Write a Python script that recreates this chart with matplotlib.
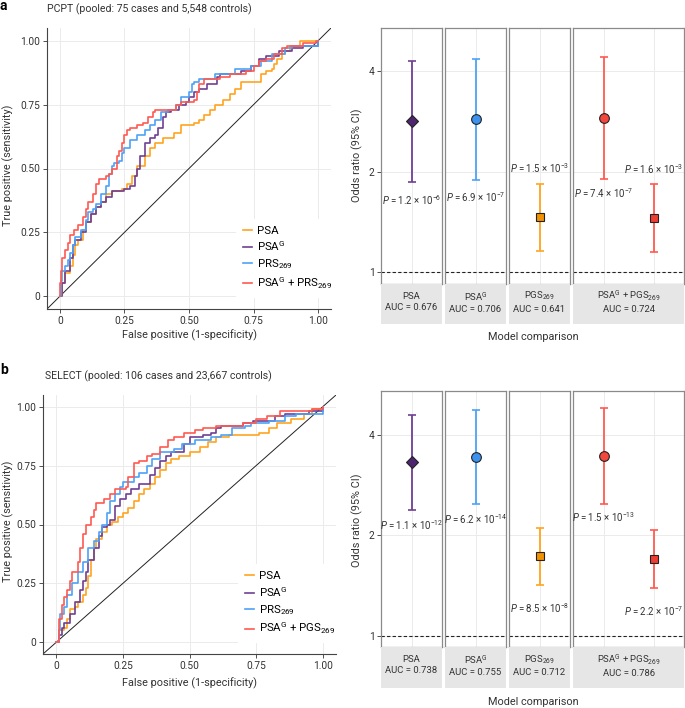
import matplotlib.pyplot as plt
import numpy as np

plt.rcParams['font.family'] = ['Roboto', 'DejaVu Sans']
plt.rcParams['mathtext.fontset'] = 'custom'
plt.rcParams['mathtext.rm'] = 'Roboto'
plt.rcParams['mathtext.it'] = 'Roboto:italic'
plt.rcParams['mathtext.bf'] = 'Roboto:bold'

# ---------------- data ----------------
# PCPT ROC curves (false positive, true positive)
pcpt_psa_fpr = [0, 0.01, 0.02, 0.04, 0.05, 0.06, 0.07, 0.09, 0.10, 0.12, 0.14, 0.16, 0.18, 0.20, 0.24, 0.26,
                0.28, 0.30, 0.33, 0.35, 0.37, 0.40, 0.44, 0.47, 0.52, 0.54, 0.56, 0.58, 0.60, 0.63, 0.66,
                0.68, 0.70, 0.77, 0.78, 0.80, 0.82, 0.83, 0.84, 0.86, 0.87, 0.89, 0.93, 1.0]
pcpt_psa_tpr = [0, 0.05, 0.09, 0.12, 0.16, 0.20, 0.22, 0.26, 0.29, 0.32, 0.35, 0.37, 0.40, 0.41, 0.42, 0.44,
                0.47, 0.51, 0.55, 0.58, 0.60, 0.62, 0.64, 0.67, 0.68, 0.69, 0.71, 0.73, 0.75, 0.77, 0.79,
                0.81, 0.84, 0.84, 0.87, 0.88, 0.89, 0.91, 0.93, 0.95, 0.96, 0.98, 1.0, 1.0]
pcpt_psag_fpr = [0, 0.01, 0.02, 0.04, 0.05, 0.06, 0.08, 0.10, 0.12, 0.14, 0.16, 0.18, 0.20, 0.25, 0.27,
                 0.29, 0.30, 0.31, 0.33, 0.35, 0.37, 0.38, 0.40, 0.41, 0.43, 0.46, 0.49, 0.50, 0.52, 0.54,
                 0.57, 0.61, 0.62, 0.70, 0.74, 0.77, 0.80, 0.85, 0.90, 0.94, 1.0]
pcpt_psag_tpr = [0, 0.05, 0.10, 0.15, 0.20, 0.22, 0.25, 0.29, 0.32, 0.35, 0.37, 0.39, 0.41, 0.42, 0.43,
                 0.47, 0.50, 0.55, 0.60, 0.62, 0.63, 0.66, 0.70, 0.72, 0.73, 0.75, 0.76, 0.78, 0.80, 0.81,
                 0.83, 0.86, 0.87, 0.88, 0.90, 0.93, 0.94, 0.96, 0.97, 0.98, 1.0]
pcpt_prs_fpr = [0, 0.005, 0.01, 0.02, 0.03, 0.04, 0.05, 0.06, 0.08, 0.10, 0.11, 0.13, 0.14, 0.16, 0.18,
                0.19, 0.20, 0.21, 0.23, 0.24, 0.25, 0.27, 0.30, 0.33, 0.35, 0.37, 0.39, 0.42, 0.45, 0.47,
                0.50, 0.51, 0.52, 0.54, 0.60, 0.68, 0.74, 0.78, 0.82, 0.87, 0.90, 1.0]
pcpt_prs_tpr = [0, 0.06, 0.10, 0.12, 0.14, 0.17, 0.20, 0.23, 0.26, 0.30, 0.33, 0.34, 0.36, 0.40, 0.43,
                0.48, 0.51, 0.52, 0.53, 0.56, 0.58, 0.61, 0.63, 0.65, 0.67, 0.69, 0.72, 0.73, 0.75, 0.78,
                0.80, 0.83, 0.84, 0.85, 0.87, 0.89, 0.90, 0.92, 0.95, 0.97, 0.98, 1.0]
pcpt_comb_fpr = [0, 0.002, 0.005, 0.01, 0.02, 0.03, 0.04, 0.055, 0.07, 0.09, 0.10, 0.11, 0.13, 0.14, 0.15,
                 0.18, 0.19, 0.20, 0.22, 0.23, 0.24, 0.25, 0.26, 0.27, 0.30, 0.32, 0.34, 0.36, 0.37, 0.43,
                 0.45, 0.47, 0.52, 0.53, 0.54, 0.56, 0.62, 0.66, 0.72, 0.75, 0.77, 0.80, 0.83, 0.86, 0.88,
                 0.94, 0.99, 1.0]
pcpt_comb_tpr = [0, 0.05, 0.10, 0.15, 0.18, 0.21, 0.24, 0.26, 0.28, 0.31, 0.34, 0.37, 0.40, 0.44, 0.46,
                 0.47, 0.48, 0.50, 0.55, 0.57, 0.60, 0.63, 0.65, 0.66, 0.67, 0.68, 0.70, 0.72, 0.73, 0.73,
                 0.75, 0.76, 0.77, 0.80, 0.83, 0.85, 0.86, 0.87, 0.88, 0.90, 0.92, 0.93, 0.95, 0.97, 0.98,
                 0.99, 1.0, 1.0]

# SELECT ROC curves
sel_psa_fpr = [0, 0.01, 0.03, 0.04, 0.05, 0.07, 0.08, 0.10, 0.11, 0.12, 0.13, 0.14, 0.15, 0.17, 0.19,
               0.21, 0.23, 0.25, 0.27, 0.29, 0.31, 0.33, 0.35, 0.37, 0.39, 0.41, 0.43, 0.46, 0.50, 0.54,
               0.57, 0.60, 0.65, 0.76, 0.80, 0.83, 0.88, 0.93, 0.96, 1.0]
sel_psa_tpr = [0, 0.05, 0.06, 0.10, 0.14, 0.15, 0.17, 0.20, 0.23, 0.28, 0.35, 0.40, 0.44, 0.47, 0.50,
               0.51, 0.53, 0.55, 0.57, 0.60, 0.63, 0.65, 0.67, 0.70, 0.73, 0.76, 0.78, 0.79, 0.81, 0.83,
               0.85, 0.87, 0.88, 0.89, 0.91, 0.93, 0.95, 0.97, 0.99, 1.0]
sel_psag_fpr = [0, 0.01, 0.02, 0.03, 0.05, 0.07, 0.09, 0.10, 0.11, 0.12, 0.14, 0.16, 0.17, 0.19, 0.20,
                0.22, 0.24, 0.26, 0.28, 0.31, 0.35, 0.37, 0.39, 0.41, 0.43, 0.48, 0.50, 0.55, 0.58, 0.60,
                0.62, 0.70, 0.74, 0.80, 0.82, 0.86, 0.95, 1.0]
sel_psag_tpr = [0, 0.03, 0.06, 0.08, 0.12, 0.17, 0.22, 0.26, 0.30, 0.35, 0.40, 0.45, 0.49, 0.50, 0.52,
                0.58, 0.61, 0.63, 0.65, 0.67, 0.71, 0.74, 0.77, 0.79, 0.81, 0.84, 0.87, 0.88, 0.89, 0.91,
                0.92, 0.93, 0.94, 0.94, 0.96, 0.97, 0.98, 1.0]
sel_prs_fpr = [0, 0.01, 0.015, 0.03, 0.04, 0.06, 0.08, 0.10, 0.12, 0.14, 0.16, 0.17, 0.19, 0.20, 0.22,
               0.24, 0.25, 0.27, 0.29, 0.31, 0.34, 0.36, 0.39, 0.44, 0.47, 0.52, 0.58, 0.62, 0.66, 0.71,
               0.73, 0.80, 0.86, 0.90, 1.0]
sel_prs_tpr = [0, 0.05, 0.12, 0.15, 0.20, 0.25, 0.30, 0.34, 0.40, 0.43, 0.47, 0.50, 0.55, 0.60, 0.63,
               0.66, 0.68, 0.68, 0.70, 0.72, 0.75, 0.78, 0.81, 0.82, 0.84, 0.86, 0.87, 0.88, 0.91, 0.92,
               0.93, 0.94, 0.96, 0.97, 1.0]
sel_comb_fpr = [0, 0.01, 0.02, 0.03, 0.04, 0.05, 0.06, 0.08, 0.09, 0.10, 0.11, 0.13, 0.14, 0.15, 0.18,
                0.20, 0.22, 0.26, 0.27, 0.29, 0.31, 0.34, 0.36, 0.39, 0.42, 0.44, 0.48, 0.52, 0.55, 0.60,
                0.70, 0.75, 0.79, 0.84, 0.96, 1.0]
sel_comb_tpr = [0, 0.10, 0.16, 0.19, 0.22, 0.26, 0.30, 0.34, 0.40, 0.46, 0.50, 0.53, 0.56, 0.59, 0.61,
                0.63, 0.65, 0.66, 0.70, 0.76, 0.77, 0.79, 0.80, 0.83, 0.86, 0.87, 0.89, 0.90, 0.91, 0.92,
                0.93, 0.95, 0.96, 0.98, 0.99, 1.0]

# odds ratios: PSA, PSA^G, PGS269, PSA^G + PGS269 (two terms)
pcpt_or = [2.83, 2.87, 1.46, 2.90, 1.45]
pcpt_lo = [1.86, 1.89, 1.16, 1.90, 1.15]
pcpt_hi = [4.29, 4.34, 1.84, 4.41, 1.83]
pcpt_p = ['1.2', '6.9', '1.5', '7.4', '1.6']
pcpt_pexp = [-6, -7, -3, -7, -3]
pcpt_auc = ['0.676', '0.706', '0.641', '0.724']

sel_or = [3.32, 3.45, 1.73, 3.47, 1.70]
sel_lo = [2.39, 2.49, 1.42, 2.49, 1.39]
sel_hi = [4.60, 4.77, 2.11, 4.83, 2.08]
sel_p = ['1.1', '6.2', '8.5', '1.5', '2.2']
sel_pexp = [-12, -14, -8, -13, -7]
sel_auc = ['0.738', '0.755', '0.712', '0.786']

model_names = ['PSA', r'PSA$^{\mathrm{G}}$', r'PGS$_{269}$', r'PSA$^{\mathrm{G}}$ + PGS$_{269}$']
facet_of = [0, 1, 2, 3, 3]
xpos_in_facet = [1, 1, 1, 1, 2]

# ---------------- styling ----------------
ORANGE = '#FFA41F'
PURPLE = '#6E3F93'
BLUE = '#4DA2F6'
RED = '#FF5A50'
GRID = '#EBEBEB'
DARK = '#333333'

or_line_cols = [PURPLE, BLUE, ORANGE, RED, RED]
or_fill_cols = ['#4F2570', '#3C92EE', '#F29200', '#F3463C', '#EE3E34']
or_markers = ['D', 'o', 's', 'o', 's']
or_msize = [6, 7, 6, 7, 6]

W, H = 685, 708
fig = plt.figure(figsize=(W / 100, H / 100), dpi=100)


def fbox(l, t, r, b):
    return [l / W, 1 - b / H, (r - l) / W, (b - t) / H]


def draw_roc(box, curves, labels, title, letter, title_xy, letter_y, xlab_y):
    ax = fig.add_axes(fbox(*box))
    cols = [ORANGE, PURPLE, BLUE, RED]
    for (fx, ty), c, lab in zip(curves, cols, labels):
        ax.plot(fx, ty, color=c, lw=1.2, drawstyle='steps-post', label=lab, zorder=3)
    ax.axline((0, 0), slope=1, color='#222222', lw=0.7, zorder=2)
    ax.set_xlim(-0.05, 1.05)
    ax.set_ylim(-0.05, 1.05)
    ticks = [0, 0.25, 0.5, 0.75, 1.0]
    tlabs = ['0', '0.25', '0.50', '0.75', '1.00']
    ax.set_xticks(ticks)
    ax.set_xticklabels(tlabs)
    ax.set_yticks(ticks)
    ax.set_yticklabels(tlabs)
    ax.grid(True, color=GRID, lw=0.7, zorder=0)
    for s in ['top', 'right']:
        ax.spines[s].set_visible(False)
    for s in ['left', 'bottom']:
        ax.spines[s].set_color('#444444')
        ax.spines[s].set_linewidth(0.8)
    ax.tick_params(colors=DARK, labelsize=7.3, length=3, width=0.6, pad=2)
    leg = ax.legend(loc='lower left', bbox_to_anchor=(0.645, 0.02), fontsize=8.2, frameon=True,
                    fancybox=False, edgecolor='none', facecolor='white', framealpha=1,
                    handlelength=0.8, handletextpad=0.45, labelspacing=0.35, borderpad=0.6)
    leg.set_zorder(5)
    cx = (box[0] + box[2]) / 2
    fig.text(cx / W, 1 - xlab_y / H, 'False positive (1-specificity)', ha='center', va='center',
             fontsize=7.8, color=DARK)
    fig.text(8 / W, 1 - ((box[1] + box[3]) / 2 - 3) / H, 'True positive (sensitivity)', rotation=90,
             ha='center', va='center', fontsize=7.8, color=DARK)
    fig.text(title_xy[0] / W, 1 - title_xy[1] / H, title, ha='left', va='center', fontsize=7.6,
             color=DARK)
    fig.text(0 / W, 1 - letter_y / H, letter, ha='left', va='center', fontsize=10, fontweight='bold')
    return ax


def draw_or(top, bot, strip_bot, ylim, ors, los, his, ps, pexps, aucs, label_gaps, label_side, ylab_y,
            xlab_y):
    unit = 60.4 / 1.2
    left = 381.3
    gap = 3.6
    edges = []
    for k in range(4):
        nlev = 2 if k == 3 else 1
        wpx = unit * (nlev + 0.2)
        edges.append((left, left + wpx))
        left += wpx + gap
    axes = []
    for k, (l, r) in enumerate(edges):
        ax = fig.add_axes(fbox(l, top, r, bot))
        nlev = 2 if k == 3 else 1
        ax.set_xlim(0.4, nlev + 0.6)
        ax.set_yscale('log', base=2)
        ax.set_ylim(*ylim)
        ax.set_yticks([1, 2, 4])
        ax.yaxis.set_minor_locator(plt.NullLocator())
        ax.set_xticks(range(1, nlev + 1))
        ax.tick_params(axis='x', length=0, labelbottom=False)
        if k == 0:
            ax.set_yticklabels(['1', '2', '4'])
            ax.tick_params(axis='y', colors=DARK, labelsize=7.3, length=3, width=0.6, pad=2)
        else:
            ax.tick_params(axis='y', length=0, labelleft=False)
        ax.grid(True, color=GRID, lw=0.7, zorder=0)
        ax.axhline(1, color='#222222', lw=0.8, ls=(0, (3, 2)), zorder=2)
        for s in ax.spines.values():
            s.set_color('#8A8A8A')
            s.set_linewidth(0.9)
        # strip
        sax = fig.add_axes(fbox(l, bot + 0.6, r, strip_bot))
        sax.set_facecolor('#E6E6E6')
        for s in sax.spines.values():
            s.set_visible(False)
        sax.set_xticks([])
        sax.set_yticks([])
        sax.text(0.5, 0.56, model_names[k] + '\nAUC = ' + aucs[k], ha='center', va='center',
                 fontsize=6.8, color=DARK, linespacing=1.3, transform=sax.transAxes)
        axes.append(ax)

    for i in range(len(ors)):
        ax = axes[facet_of[i]]
        xi = xpos_in_facet[i]
        ax.errorbar([xi], [ors[i]], yerr=[[ors[i] - los[i]], [his[i] - ors[i]]], fmt='none',
                    ecolor=or_line_cols[i], elinewidth=1.3, capsize=3, capthick=1.2, zorder=3)
        ax.plot([xi], [ors[i]], marker=or_markers[i], ms=or_msize[i], mfc=or_fill_cols[i],
                mec='#222222', mew=0.8, ls='none', zorder=4)
        txt = r'$P$ = ' + ps[i] + r' × 10$^{' + str(pexps[i]) + r'}$'
        if label_side[i] == 'below':
            anchor, dy = los[i], -label_gaps[i]
        else:
            anchor, dy = his[i], label_gaps[i]
        ax.annotate(txt, (xi, anchor), xytext=(0, dy), textcoords='offset pixels', ha='center',
                    va='center', fontsize=6.9, color=DARK, annotation_clip=False, zorder=5)

    fig.text(357 / W, 1 - ylab_y / H, 'Odds ratio (95% CI)', rotation=90, ha='center', va='center',
             fontsize=7.8, color=DARK)
    fig.text(533 / W, 1 - xlab_y / H, 'Model comparison', ha='center', va='center', fontsize=7.8,
             color=DARK)


# ---------------- panel a ----------------
draw_roc((47, 28, 331, 309),
         [(pcpt_psa_fpr, pcpt_psa_tpr), (pcpt_psag_fpr, pcpt_psag_tpr),
          (pcpt_prs_fpr, pcpt_prs_tpr), (pcpt_comb_fpr, pcpt_comb_tpr)],
         ['PSA', r'PSA$^{\mathrm{G}}$', r'PRS$_{269}$', r'PSA$^{\mathrm{G}}$ + PRS$_{269}$'],
         'PCPT (pooled: 75 cases and 5,548 controls)', 'a', (47, 9), 6, 335)

draw_or(27.7, 283.7, 324, (2 ** -0.116, 2 ** 2.431), pcpt_or, pcpt_lo, pcpt_hi, pcpt_p, pcpt_pexp,
        pcpt_auc, [18, 17, 16, 14, 15], ['below', 'below', 'above', 'below', 'above'], 155, 337)

# ---------------- panel b ----------------
draw_roc((43, 395, 336, 654),
         [(sel_psa_fpr, sel_psa_tpr), (sel_psag_fpr, sel_psag_tpr),
          (sel_prs_fpr, sel_prs_tpr), (sel_comb_fpr, sel_comb_tpr)],
         ['PSA', r'PSA$^{\mathrm{G}}$', r'PRS$_{269}$', r'PSA$^{\mathrm{G}}$ + PGS$_{269}$'],
         'SELECT (pooled: 106 cases and 23,667 controls)', 'b', (45, 376), 370, 683)

draw_or(391, 646.7, 687.7, (2 ** -0.11, 2 ** 2.442), sel_or, sel_lo, sel_hi, sel_p, sel_pexp,
        sel_auc, [15, 15, 23, 13, 23], ['below'] * 5, 520, 702)

fig.savefig('out.png', dpi=100)
